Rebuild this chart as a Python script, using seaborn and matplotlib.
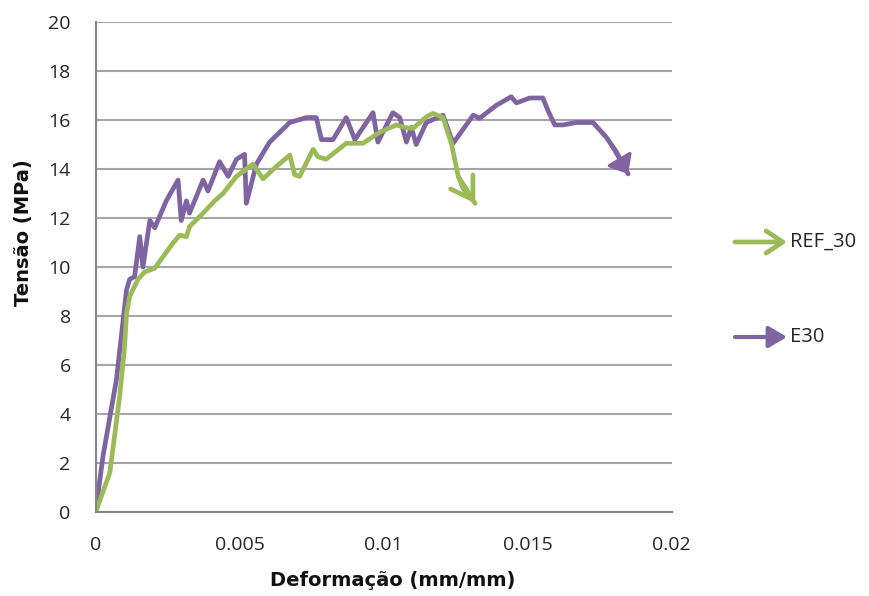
import matplotlib
matplotlib.use("Agg")
import matplotlib.pyplot as plt
import seaborn as sns
import pandas as pd

# ---- data ----
ref30_strain = [0.0, 0.00049, 0.00083, 0.00100, 0.00107, 0.00118, 0.00147, 0.00170, 0.00205,
                0.00268, 0.00292, 0.00315, 0.00326, 0.00373, 0.00413, 0.00442, 0.00489,
                0.00546, 0.00581, 0.00627, 0.00674, 0.00691, 0.00708, 0.00755, 0.00772,
                0.00800, 0.00870, 0.00928, 0.00986, 0.01044, 0.01073, 0.01102, 0.01148,
                0.01171, 0.01206, 0.01235, 0.01259, 0.01276, 0.01318]
ref30_stress = [0.0, 1.6, 4.7, 6.7, 8.1, 8.8, 9.5, 9.8, 9.95,
                10.97, 11.3, 11.24, 11.65, 12.2, 12.7, 13.0, 13.7,
                14.2, 13.6, 14.1, 14.57, 13.76, 13.7, 14.8, 14.5,
                14.4, 15.05, 15.05, 15.5, 15.8, 15.7, 15.66, 16.13,
                16.27, 16.1, 15.05, 13.7, 13.2, 12.6]

e30_strain = [0.0, 0.00025, 0.00072, 0.00095, 0.00107, 0.00118, 0.00135, 0.00153, 0.00164,
              0.00188, 0.00205, 0.00245, 0.00286, 0.00297, 0.00315, 0.00326, 0.00373,
              0.00390, 0.00430, 0.00460, 0.00489, 0.00517, 0.00523, 0.00558, 0.00604,
              0.00674, 0.00732, 0.00766, 0.00784, 0.00824, 0.00870, 0.00900, 0.00963,
              0.00980, 0.01032, 0.01056, 0.01079, 0.01096, 0.01113, 0.01148, 0.01206,
              0.01241, 0.01311, 0.01333, 0.01391, 0.01443, 0.01461, 0.01507, 0.01553,
              0.01570, 0.01594, 0.01623, 0.01669, 0.01727, 0.01773, 0.01808, 0.01849]
e30_stress = [0.0, 2.26, 5.4, 7.8, 9.06, 9.5, 9.6, 11.24, 10.0,
              11.9, 11.6, 12.7, 13.55, 11.9, 12.7, 12.2, 13.55,
              13.1, 14.3, 13.7, 14.4, 14.6, 12.6, 14.2, 15.1,
              15.9, 16.1, 16.1, 15.2, 15.2, 16.1, 15.2, 16.3,
              15.1, 16.3, 16.1, 15.1, 15.7, 15.0, 15.9, 16.2,
              15.05, 16.2, 16.07, 16.6, 16.95, 16.7, 16.9, 16.9,
              16.4, 15.8, 15.8, 15.9, 15.9, 15.3, 14.7, 13.8]

series_names = ["REF_30", "E30"]
x_ticks = [0, 0.005, 0.01, 0.015, 0.02]
x_tick_labels = ["0", "0.005", "0.01", "0.015", "0.02"]
y_ticks = [0, 2, 4, 6, 8, 10, 12, 14, 16, 18, 20]

green = "#9BBB59"
purple = "#8064A2"

df = pd.concat([
    pd.DataFrame({"strain": ref30_strain, "stress": ref30_stress, "serie": series_names[0]}),
    pd.DataFrame({"strain": e30_strain, "stress": e30_stress, "serie": series_names[1]}),
], ignore_index=True)

sns.set_style("white")
plt.rcParams["font.family"] = ["Open Sans", "DejaVu Sans"]

fig = plt.figure(figsize=(8.7, 5.96), dpi=100)
ax = fig.add_axes([0.110, 0.141, 0.662, 0.822])

palette = {series_names[0]: green, series_names[1]: purple}
sns.lineplot(data=df, x="strain", y="stress", hue="serie", palette=palette,
             hue_order=[series_names[1], series_names[0]],
             sort=False, estimator=None, linewidth=3.4, legend=False, ax=ax,
             solid_joinstyle="round", solid_capstyle="round")

# arrow heads at line ends
ax.annotate("", xy=(ref30_strain[-1], ref30_stress[-1]),
            xytext=(ref30_strain[-3], ref30_stress[-3]),
            arrowprops=dict(arrowstyle="->,head_length=1.5,head_width=0.95",
                            color=green, lw=3.4, shrinkA=0, shrinkB=0,
                            joinstyle="round", capstyle="round"))
ax.annotate("", xy=(e30_strain[-1], e30_stress[-1]),
            xytext=(e30_strain[-3], e30_stress[-3]),
            arrowprops=dict(arrowstyle="-|>,head_length=1.0,head_width=0.85",
                            color=purple, lw=2.5, shrinkA=0, shrinkB=0))

ax.set_xlim(0, 0.02)
ax.set_ylim(0, 20)
ax.set_xticks(x_ticks)
ax.set_xticklabels(x_tick_labels)
ax.set_yticks(y_ticks)
ax.yaxis.grid(True, color="#a6a6a6", linewidth=1.5)
ax.xaxis.grid(False)
for s in ["top", "right"]:
    ax.spines[s].set_visible(False)
for s in ["left", "bottom"]:
    ax.spines[s].set_color("#868686")
    ax.spines[s].set_linewidth(1.5)
ax.tick_params(axis="both", which="major", length=6, width=1.5, color="#868686",
               labelsize=14, labelcolor="#262626")
ax.tick_params(axis="x", pad=11)
ax.tick_params(axis="y", pad=12)

label_font = dict(family=["DejaVu Sans"], size=14, weight="bold")
ax.set_xlabel("Deformação (mm/mm)", fontdict=label_font, va="top", color="#111111")
ax.xaxis.set_label_coords(0.516, -0.121)
ax.set_ylabel("Tensão (MPa)", fontdict=label_font, va="center", color="#111111")
ax.yaxis.set_label_coords(-0.125, 0.571)

# custom legend outside right
ax.annotate("", xy=(787 / 870, 1 - 242 / 596), xytext=(735 / 870, 1 - 242 / 596),
            xycoords="figure fraction", textcoords="figure fraction",
            arrowprops=dict(arrowstyle="->,head_length=1.2,head_width=0.8",
                            color=green, lw=3.4, shrinkA=0, shrinkB=0))
ax.annotate("", xy=(787 / 870, 1 - 337 / 596), xytext=(735 / 870, 1 - 337 / 596),
            xycoords="figure fraction", textcoords="figure fraction",
            arrowprops=dict(arrowstyle="-|>,head_length=1.1,head_width=0.65",
                            color=purple, lw=3.0, shrinkA=0, shrinkB=0))
fig.text(790 / 870, 1 - 242 / 596, series_names[0], fontsize=14.5, va="center",
         ha="left", color="#262626")
fig.text(790 / 870, 1 - 337 / 596, series_names[1], fontsize=14.5, va="center",
         ha="left", color="#262626")

fig.savefig("out.png", dpi=100)
